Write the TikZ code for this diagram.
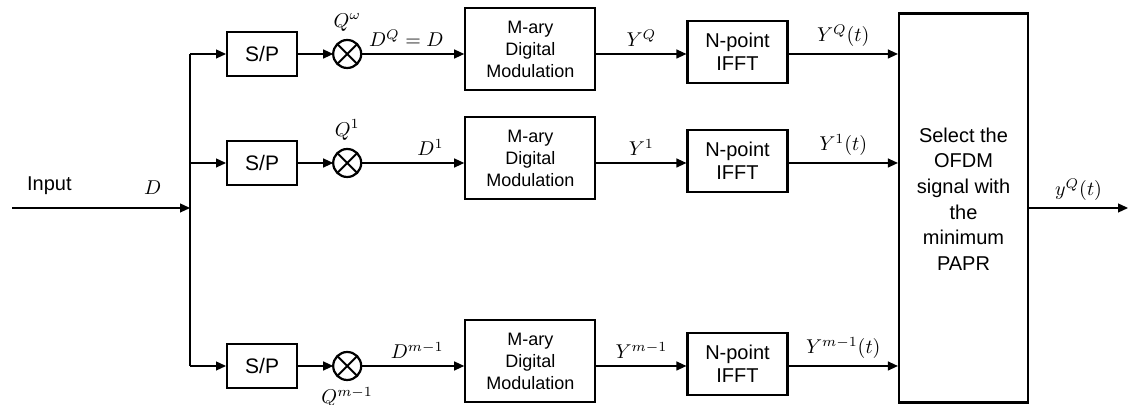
\documentclass[tikz,border=0pt]{standalone}
\usepackage{fontspec}
\setmainfont{Liberation Sans}
\usetikzlibrary{positioning,arrows.meta,calc}

\tikzset{
  blk/.style={draw, line width=1.1pt, inner sep=0pt, align=center},
  spbox/.style={blk, minimum width=35pt, minimum height=22pt, font=\fontsize{10.5}{12}\selectfont},
  modbox/.style={blk, minimum width=65pt, minimum height=41pt, yshift=2.5pt, font=\fontsize{9}{11}\selectfont},
  fftbox/.style={blk, minimum width=50pt, minimum height=31pt, yshift=1pt, font=\fontsize{10}{11.5}\selectfont},
  selbox/.style={blk, minimum width=64.5pt, minimum height=194.5pt},
  mult/.style={draw, circle, line width=1.1pt, minimum size=14pt, inner sep=0pt, outer sep=0pt},
  sig/.style={line width=0.6pt, -{Triangle[length=5pt,width=4.5pt]}},
  wire/.style={line width=0.6pt},
}

\begin{document}
\begin{tikzpicture}[x=1pt, y=1pt]
\useasboundingbox (0,0) rectangle (565,202.5);

\coordinate (in) at (6,98.5);
\coordinate (bus) at (95,98.5);
\coordinate (r1) at (95,175.5);
\coordinate (r2) at (95,121);
\coordinate (r3) at (95,19.5);

\node (sp1) [spbox, right=18pt of r1] {S/P};
\node (x1) [mult, right=17.5pt of sp1, label={[label distance=1pt]above:$Q^{\omega}$}] {};
\node (mod1) [modbox, right=51.5pt of x1] {M-ary\\Digital\\Modulation};
\node (fft1) [fftbox, right=45pt of mod1.east |- x1] {N-point\\IFFT};

\node (sp2) [spbox, right=18pt of r2] {S/P};
\node (x2) [mult, right=17.5pt of sp2, label={[label distance=1pt]above:$Q^{1}$}] {};
\node (mod2) [modbox, right=51.5pt of x2] {M-ary\\Digital\\Modulation};
\node (fft2) [fftbox, right=45pt of mod2.east |- x2] {N-point\\IFFT};

\node (sp3) [spbox, right=18pt of r3] {S/P};
\node (x3) [mult, right=17.5pt of sp3, label={[label distance=0pt]below:$Q^{m-1}$}] {};
\node (mod3) [modbox, right=51.5pt of x3] {M-ary\\Digital\\Modulation};
\node (fft3) [fftbox, right=45pt of mod3.east |- x3] {N-point\\IFFT};

\node (sel) [selbox, label={[align=center, yshift=4.5pt, font=\fontsize{10}{12.8}\selectfont]center:Select the\\OFDM\\signal with\\the\\minimum\\PAPR}] at (481.75,98.5) {};
\coordinate (out) at (564,98.5);

\draw[sig] (in) -- node (inlab) [above=3pt, pos=0.21] {Input} node (dlab) [above=3pt, pos=0.79] {$D$} (bus);
\draw[wire] (r1) -- (r3);

\draw[sig] (r1) -- (sp1);
\draw[sig] (sp1) -- (x1);
\draw[line width=1pt] (x1.north east) -- (x1.south west) (x1.north west) -- (x1.south east);
\draw[sig] (x1) -- node [pos=0.87, anchor=south east] {$D^{Q}=D$} (x1 -| mod1.west);
\draw[sig] (x1 -| mod1.east) -- node [above] {$Y^{Q}$} (x1 -| fft1.west);
\draw[sig] (x1 -| fft1.east) -- node [above] {$Y^{Q}(t)$} (x1 -| sel.west);

\draw[sig] (r2) -- (sp2);
\draw[sig] (sp2) -- (x2);
\draw[line width=1pt] (x2.north east) -- (x2.south west) (x2.north west) -- (x2.south east);
\draw[sig] (x2) -- node [pos=0.87, anchor=south east] {$D^{1}$} (x2 -| mod2.west);
\draw[sig] (x2 -| mod2.east) -- node [above] {$Y^{1}$} (x2 -| fft2.west);
\draw[sig] (x2 -| fft2.east) -- node [above] {$Y^{1}(t)$} (x2 -| sel.west);

\draw[sig] (r3) -- (sp3);
\draw[sig] (sp3) -- (x3);
\draw[line width=1pt] (x3.north east) -- (x3.south west) (x3.north west) -- (x3.south east);
\draw[sig] (x3) -- node [pos=0.87, anchor=south east] {$D^{m-1}$} (x3 -| mod3.west);
\draw[sig] (x3 -| mod3.east) -- node [above] {$Y^{m-1}$} (x3 -| fft3.west);
\draw[sig] (x3 -| fft3.east) -- node [above] {$Y^{m-1}(t)$} (x3 -| sel.west);

\draw[sig] (sel.east) -- node [above] {$y^{Q}(t)$} (out);

\end{tikzpicture}
\end{document}
